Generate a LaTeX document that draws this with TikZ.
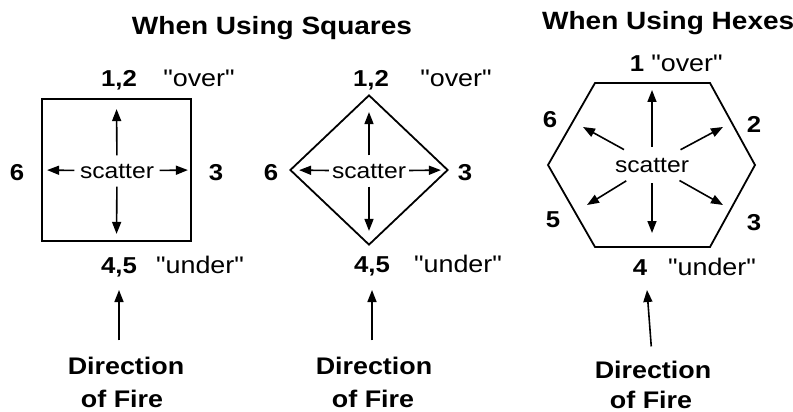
\documentclass[tikz,border=0pt]{standalone}
\usepackage{fontspec}
\newfontfamily\labfont[FakeStretch=1.12]{Liberation Sans}
\usetikzlibrary{arrows.meta,positioning,shapes.geometric}

\begin{document}
\begin{tikzpicture}[x=1pt,y=-1pt,
  shp/.style={draw,line width=1.8pt,inner sep=0pt},
  sc/.style={-{Triangle[length=12pt,width=9pt]},line width=1.6pt},
  ttl/.style={font=\labfont\bfseries\fontsize{25}{30}\selectfont,anchor=base,inner sep=0pt},
  num/.style={font=\labfont\bfseries\fontsize{23}{28}\selectfont,anchor=base,inner sep=0pt},
  qt/.style={font=\labfont\fontsize{24}{28}\selectfont,anchor=base,inner sep=0pt},
  scat/.style={font=\labfont\fontsize{22}{26}\selectfont,inner sep=0pt},
  dir/.style={font=\labfont\bfseries\fontsize{24}{30}\selectfont,anchor=base,inner sep=0pt}
]
\useasboundingbox (0,0) rectangle (793,412);

% titles
\node[ttl] (tsq) at (272,35) {When Using Squares};
\node[ttl,anchor=base west] (thx) at (542,30) {When Using Hexes};

% square
\node[shp,minimum width=149pt,minimum height=142pt] (sq) at (116.5,170) {};
\node[scat,minimum width=85pt,minimum height=31pt] (s1) at (117,171) {scatter};
\foreach \a/\gap in {north/11,south/8,west/6,east/4}
  \draw[sc,shorten >=\gap pt] (s1) -- (sq.\a);
\node[num] (sq12) at (119,87) {1,2};
\node[qt] (sqov) at (199,87) {"over"};
\node[num] (sq6) at (17,180) {6};
\node[num] (sq3) at (216,180) {3};
\node[num] (sq45) at (119,273) {4,5};
\node[qt] (squn) at (200,273) {"under"};

% diamond
\node[shp,diamond,minimum width=158pt,minimum height=150pt] (dm) at (369,170) {};
\node[scat,minimum width=80pt,minimum height=31pt] (s2) at (369,171) {scatter};
\foreach \a/\gap in {north/18,south/15,west/10,east/8}
  \draw[sc,shorten >=\gap pt] (s2) -- (dm.\a);
\node[num] (dm12) at (371,86) {1,2};
\node[qt] (dmov) at (456,86) {"over"};
\node[num] (dm6) at (271,180) {6};
\node[num] (dm3) at (465,180) {3};
\node[num] (dm45) at (372,272) {4,5};
\node[qt] (dmun) at (458,272) {"under"};

% hex
\coordinate (hA) at (595,83);
\coordinate (hB) at (710,83);
\coordinate (hC) at (755,165);
\coordinate (hD) at (710,247);
\coordinate (hE) at (595,247);
\coordinate (hF) at (548,165);
\draw[shp,line join=miter] (hA) -- (hB) -- (hC) -- (hD) -- (hE) -- (hF) -- cycle;
\node[scat,ellipse,minimum width=60pt,minimum height=36pt] (s3) at (652,165) {scatter};
\coordinate (p1) at (652,90);
\coordinate (p2) at (723,127);
\coordinate (p3) at (723,205);
\coordinate (p4) at (652,233);
\coordinate (p5) at (587,205);
\coordinate (p6) at (583,127);
\foreach \n in {1,...,6}
  \draw[sc] (s3) -- (p\n);
\node[num] (hx1) at (637,72) {1};
\node[qt] (hxov) at (687,72) {"over"};
\node[num] (hx6) at (550,128) {6};
\node[num] (hx2) at (754,132) {2};
\node[num] (hx5) at (553,227) {5};
\node[num] (hx3) at (754,230) {3};
\node[num] (hx4) at (640,275) {4};
\node[qt] (hxun) at (712,275) {"under"};

% direction of fire
\node[dir] (d1) at (126,374) {Direction};
\node[dir] (f1) at (122,407) {of Fire};
\node[dir] (d2) at (374,374) {Direction};
\node[dir] (f2) at (373,407) {of Fire};
\node[dir] (d3) at (653,378) {Direction};
\node[dir] (f3) at (651,408) {of Fire};
\coordinate (ft1) at (119,290);
\coordinate (ft2) at (372,290);
\coordinate (ft3) at (647,290);
\draw[sc,shorten <=16pt] (d1.north -| ft1) -- (ft1);
\draw[sc,shorten <=16pt] (d2.north -| ft2) -- (ft2);
\draw[sc,shorten <=14pt] (d3) -- (ft3);
\end{tikzpicture}
\end{document}
